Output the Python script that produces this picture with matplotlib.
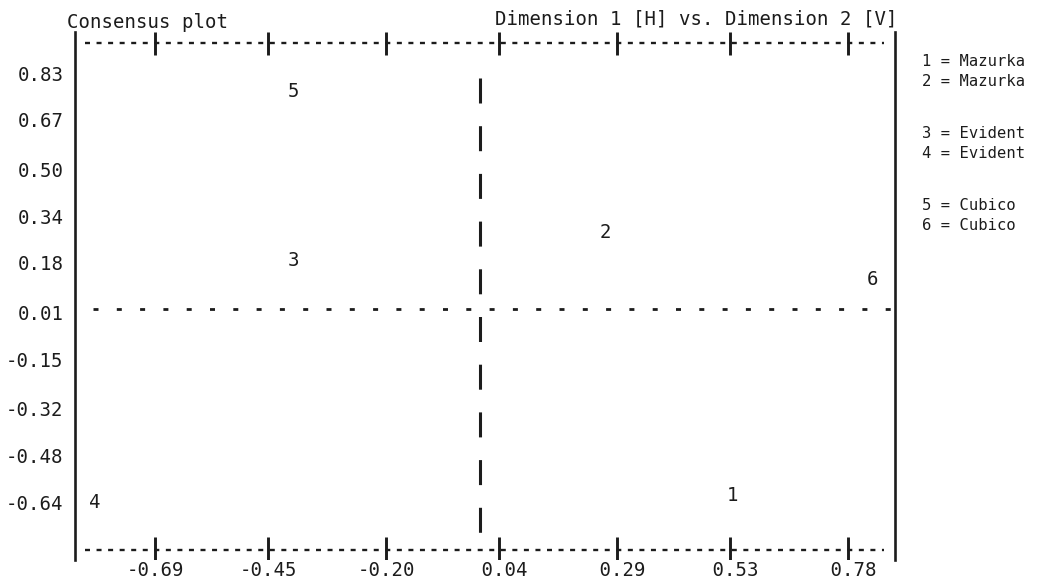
import matplotlib
matplotlib.use('Agg')
import matplotlib.pyplot as plt

plt.rcParams['font.family'] = 'DejaVu Sans Mono'
plt.rcParams['lines.scale_dashes'] = False

# values
x_ticks = [-0.69, -0.45, -0.20, 0.04, 0.29, 0.53, 0.78]
y_ticks = [0.83, 0.67, 0.50, 0.34, 0.18, 0.01, -0.15, -0.32, -0.48, -0.64]
point_ids = ['1', '2', '3', '4', '5', '6']
dim1 = [0.536, 0.265, -0.397, -0.817, -0.397, 0.831]
dim2 = [-0.616, 0.282, 0.189, -0.643, 0.765, 0.121]
names = ['Mazurka', 'Mazurka', 'Evident', 'Evident', 'Cubico', 'Cubico']
origin_x = 0.0
origin_y = 0.02

W, H = 1052, 580
ink = '#1c1c1c'
fs = 13.7


def pt(px):
    return px * 0.72


fig = plt.figure(figsize=(W / 100, H / 100), dpi=100, facecolor='w')
ax = fig.add_axes([75 / W, 20 / H, 820 / W, 528 / H])
ax.set_xlim(-0.8597, 0.8797)
ax.set_ylim(-0.8384, 0.9705)

for s in ['top', 'bottom']:
    ax.spines[s].set_visible(False)
for s in ['left', 'right']:
    ax.spines[s].set_linewidth(1.9)
    ax.spines[s].set_color(ink)

# y labels
ax.set_yticks(y_ticks, labels=['%.2f' % v for v in y_ticks])
ax.tick_params(axis='y', length=0, pad=8.2, labelsize=fs, labelcolor=ink)
# x labels, padded to 5 chars so the decimal point sits under the bar
ax.set_xticks(x_ticks, labels=['%5.2f' % v for v in x_ticks])
ax.tick_params(axis='x', length=0, pad=1, labelsize=fs, labelcolor=ink)

# text-style border: dashes with bars at the ticks
cw = (x_ticks[1] - x_ticks[0]) / 10  # one character cell
half = 2.5 / 471.4
for yb, (b0, b1) in [(0.933, (0.892, 0.9705)), (-0.804, (-0.838, -0.760))]:
    ax.plot([x_ticks[0] - 6 * cw - half, x_ticks[-1] + 3 * cw + half], [yb, yb],
            color=ink, lw=1.7, dashes=(pt(5), pt(6.55)), dash_capstyle='butt')
    ax.vlines(x_ticks, b0, b1, color=ink, lw=2.1)

# origin cross
ax.plot([-0.821, 0.872], [origin_y, origin_y], color=ink, lw=2.0,
        dashes=(pt(5), pt(18.3)), dash_capstyle='butt')
ax.plot([origin_x, origin_x], [0.813, -0.745], color=ink, lw=2.2,
        dashes=(pt(25), pt(22.7)), dash_capstyle='butt')

# the points are printed as their numbers
for lab, xv, yv in zip(point_ids, dim1, dim2):
    ax.text(xv, yv, lab, ha='center', va='center', fontsize=fs, color=ink)

# headings
fig.text(67 / W, 1 - 22 / H, 'Consensus plot', ha='left', va='center',
         fontsize=fs, color=ink)
fig.text(495 / W, 1 - 19 / H, 'Dimension 1 [H] vs. Dimension 2 [V]',
         ha='left', va='center', fontsize=fs, color=ink)

# key on the right, pairs separated by a blank line
for i, (lab, nm) in enumerate(zip(point_ids, names)):
    ypx = 62 + (i % 2) * 19 + (i // 2) * 72
    fig.text(922 / W, 1 - ypx / H, '%s = %s' % (lab, nm), ha='left',
             va='center', fontsize=11.2, color=ink)

fig.savefig('out.png', dpi=100, facecolor='w')
